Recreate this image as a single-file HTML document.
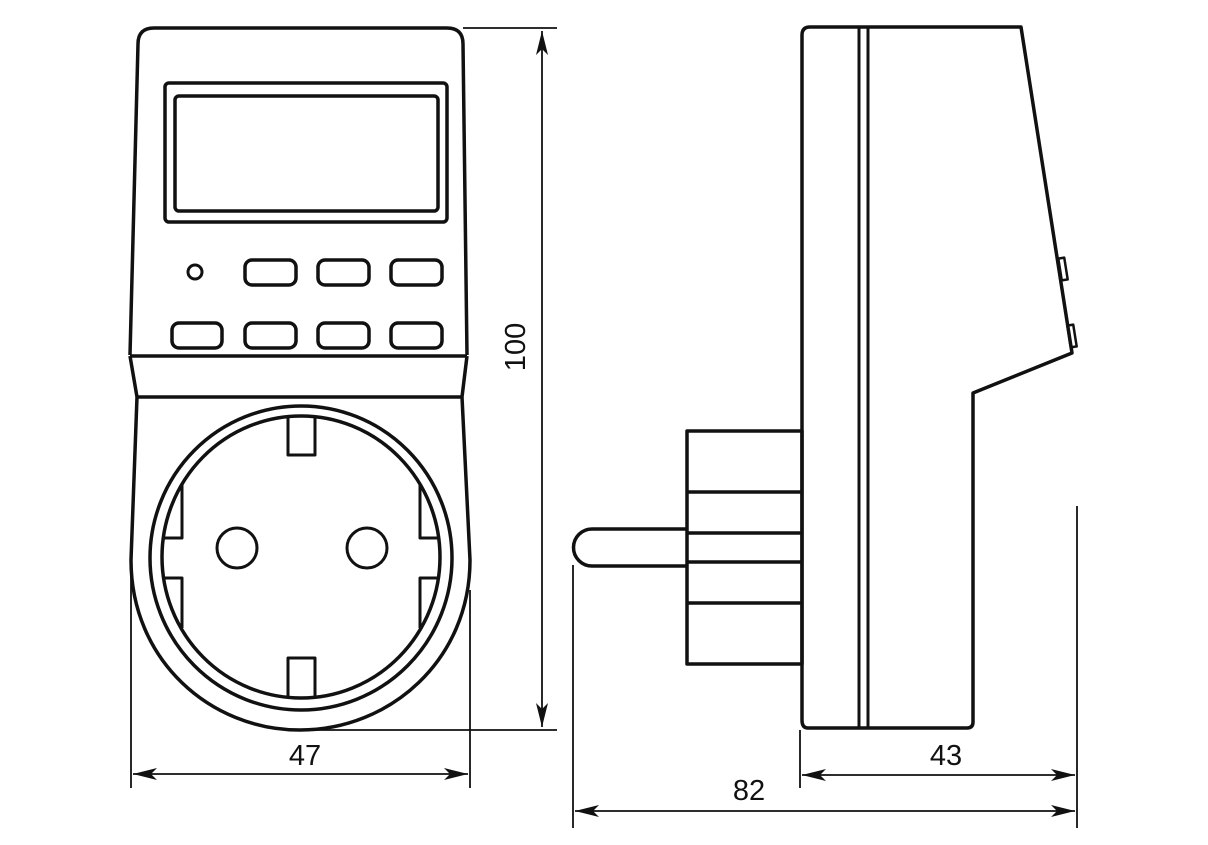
<!DOCTYPE html>
<html><head><meta charset="utf-8"><style>html,body{margin:0;padding:0;background:#fff}svg{display:block}</style></head>
<body>
<svg width="1208" height="845" viewBox="0 0 1208 845" xmlns="http://www.w3.org/2000/svg">
<defs>
<marker id="ar" viewBox="0 0 24 12" refX="24" refY="6" markerWidth="24" markerHeight="12" markerUnits="userSpaceOnUse" orient="auto-start-reverse">
<path d="M0,0 L24,6 L0,12 L6,6 Z" fill="#111"/>
</marker>
</defs>
<g fill="none" stroke="#111" stroke-width="3.5" stroke-linejoin="round">
<!-- front view body -->
<path d="M130,355 L138,44 Q138,28 154,28 L447,28 Q463,28 463,44 L467,355"/>
<line x1="130" y1="356" x2="467" y2="356"/>
<path d="M130,356 L137,397 L131,560 C131,660 210,730 300,730 C390,730 470,660 470,560 L462,397 L467,356"/>
<line x1="137" y1="397" x2="462" y2="397"/>
<rect x="165" y="83" width="282" height="139" rx="4"/>
<rect x="175" y="96" width="263" height="115" rx="4"/>
<circle cx="195" cy="272" r="7" stroke-width="3"/>
<rect x="245" y="260" width="51" height="25" rx="7"/>
<rect x="318" y="260" width="51" height="25" rx="7"/>
<rect x="391" y="260" width="51" height="25" rx="7"/>
<rect x="172" y="323" width="50" height="25" rx="7"/>
<rect x="245" y="323" width="51" height="25" rx="7"/>
<rect x="318" y="323" width="51" height="25" rx="7"/>
<rect x="391" y="323" width="51" height="25" rx="7"/>
<!-- socket -->
<ellipse cx="301" cy="558" rx="151" ry="152"/>
<ellipse cx="301" cy="557" rx="139" ry="141"/>
<circle cx="237" cy="548" r="20" stroke-width="3"/>
<circle cx="367" cy="548" r="20" stroke-width="3"/>
<path d="M288,416 L288,455 L315,455 L315,416" stroke-width="3"/>
<path d="M288,698 L288,658 L315,658 L315,698" stroke-width="3"/>
<path d="M182,483 L182,538 L163,538" stroke-width="3"/>
<path d="M163,578 L182,578 L182,628" stroke-width="3"/>
<path d="M420,483 L420,538 L439,538" stroke-width="3"/>
<path d="M439,578 L420,578 L420,628" stroke-width="3"/>
<!-- side view -->
<path d="M802,720 L802,35 Q802,27 810,27 L1021,27 L1072,353 L973,393 L973,722 Q973,728 967,728 L808,728 Q802,728 802,720 Z"/>
<line x1="859" y1="27" x2="859" y2="728" stroke-width="3"/>
<line x1="868" y1="27" x2="868" y2="728" stroke-width="3"/>
<rect x="1060" y="258" width="6" height="22" stroke-width="2.5" transform="rotate(-9 1063 269)"/>
<rect x="1069" y="325" width="6" height="22" stroke-width="2.5" transform="rotate(-9 1072 336)"/>
<rect x="687" y="431" width="115" height="233"/>
<line x1="687" y1="492" x2="802" y2="492"/>
<line x1="687" y1="533" x2="802" y2="533"/>
<line x1="687" y1="562" x2="802" y2="562"/>
<line x1="687" y1="603" x2="802" y2="603"/>
<path d="M687,529 L592,529 A18.5,18.5 0 0 0 592,566 L687,566"/>
</g>
<!-- dimensions -->
<g stroke="#111" stroke-width="1.8" fill="none">
<line x1="463" y1="28" x2="557" y2="28"/>
<line x1="300" y1="730" x2="557" y2="730"/>
<line x1="542" y1="31" x2="542" y2="727" marker-start="url(#ar)" marker-end="url(#ar)"/>
<line x1="131" y1="570" x2="131" y2="788"/>
<line x1="470" y1="590" x2="470" y2="788"/>
<line x1="133" y1="774" x2="468" y2="774" marker-start="url(#ar)" marker-end="url(#ar)"/>
<line x1="573" y1="565" x2="573" y2="828"/>
<line x1="800" y1="730" x2="800" y2="788"/>
<line x1="1077" y1="506" x2="1077" y2="828"/>
<line x1="802" y1="775" x2="1075" y2="775" marker-start="url(#ar)" marker-end="url(#ar)"/>
<line x1="575" y1="811" x2="1075" y2="811" marker-start="url(#ar)" marker-end="url(#ar)"/>
</g>
<g font-family="Liberation Sans, sans-serif" font-size="29" fill="#111" text-anchor="middle">
<text x="305" y="765">47</text>
<text x="946" y="765">43</text>
<text x="749" y="800">82</text>
<text x="0" y="0" transform="translate(525,347) rotate(-90)">100</text>
</g>
</svg>
</body></html>
